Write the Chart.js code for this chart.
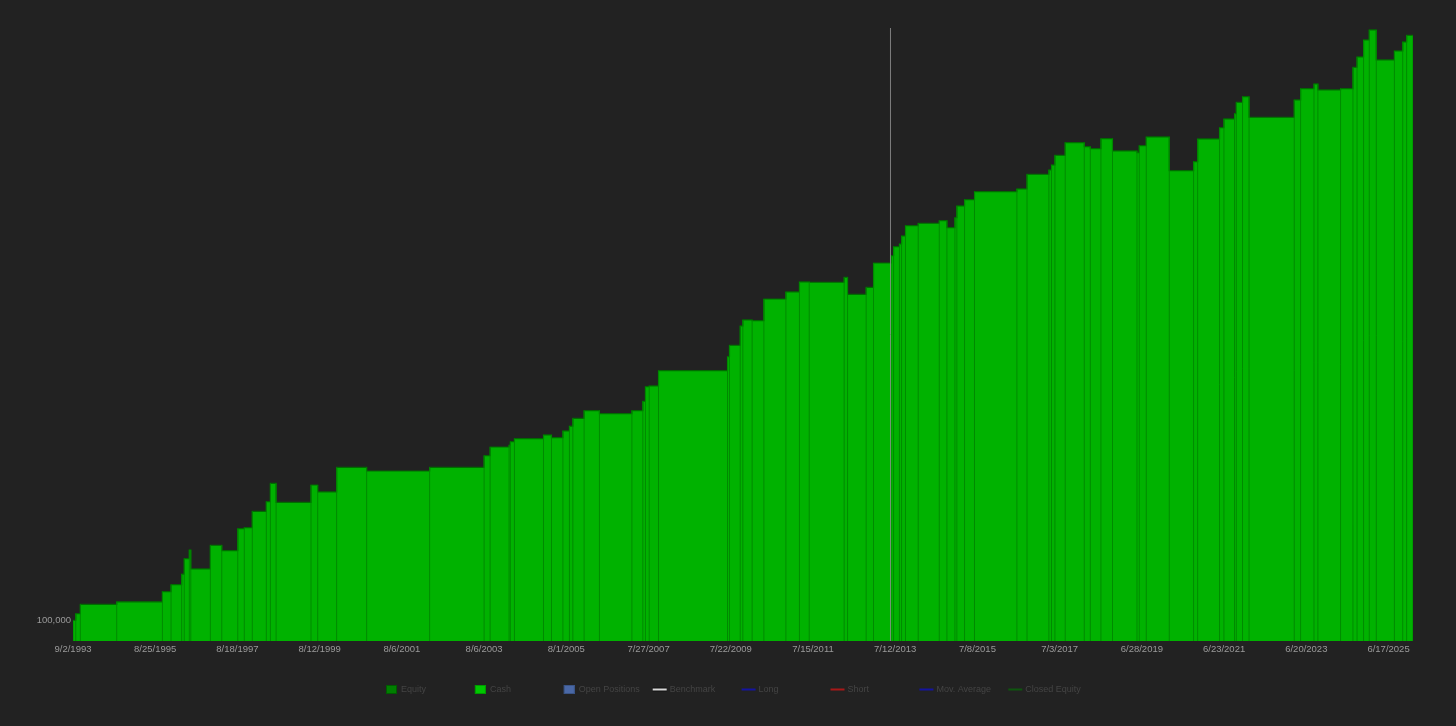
<!DOCTYPE html>
<html>
<head>
<meta charset="utf-8">
<script src="https://cdn.jsdelivr.net/npm/chart.js@4.4.1/dist/chart.umd.min.js"></script>
<style>
    html, body { margin: 0; padding: 0; background: #222222; }
    #wrap { width: 1456px; height: 726px; }
</style>
</head>
<body>
<div id="wrap"><canvas id="equityChart" width="1456" height="726"></canvas></div>
<script>
// trading day (bar index from 9/2/1993) where the equity level changes
const stepDays = [0, 17, 45, 268, 548, 601, 666, 682, 713, 722,
    842, 912, 1010, 1050, 1099, 1185, 1210, 1245, 1459, 1500,
    1616, 1800, 2186, 2520, 2557, 2673, 2681, 2706, 2884, 2933,
    3003, 3043, 3064, 3133, 3227, 3426, 3493, 3509, 3532, 3589,
    4012, 4024, 4090, 4106, 4163, 4235, 4370, 4453, 4513, 4727,
    4748, 4862, 4907, 5014, 5030, 5066, 5079, 5103, 5181, 5310,
    5357, 5406, 5418, 5465, 5526, 5786, 5848, 5982, 5998, 6019,
    6082, 6199, 6236, 6301, 6372, 6522, 6536, 6579, 6720, 6869,
    6894, 7028, 7055, 7120, 7131, 7169, 7209, 7486, 7525, 7607,
    7631, 7770, 7846, 7871, 7911, 7946, 7989, 8100, 8151, 8175];

// equity level held from that day on
const equityValues = [99900, 102400, 106000, 107000, 111100, 114000, 118600, 125600, 129700, 120900,
    132000, 129400, 140400, 140900, 149700, 155200, 166100, 154800, 165100, 160900,
    176200, 173900, 176300, 184100, 190100, 191500, 193900, 196100, 198800, 196800,
    201800, 205500, 211500, 217600, 215200, 217600, 225300, 237800, 238500, 252400,
    265900, 277400, 298000, 304700, 303900, 329400, 338100, 350900, 350500, 357100,
    335200, 344000, 376500, 386900, 400000, 404100, 416300, 432500, 436400, 440600,
    429300, 445500, 465300, 476300, 490700, 495600, 523400, 531900, 541800, 561700,
    588600, 579900, 575600, 597400, 570800, 567200, 582100, 601200, 530500, 548500,
    596800, 622300, 642800, 655600, 683900, 698300, 646800, 689800, 719300, 732000,
    715800, 719300, 778800, 809200, 862000, 894500, 800200, 827400, 855600, 877000];

const lastDay = 8214;
const tickEvery = 504; // one date label every 504 bars
const tickLabels = ['9/2/1993', '8/25/1995', '8/18/1997', '8/12/1999', '8/6/2001', '8/6/2003',
    '8/1/2005', '7/27/2007', '7/22/2009', '7/15/2011', '7/12/2013', '7/8/2015',
    '7/3/2017', '6/28/2019', '6/23/2021', '6/20/2023', '6/17/2025'];
const yTickValues = [100000];
const yMin = 92500;
const yMax = 901000;
const cursorDay = 5011; // the grey cursor line

const legendNames = ['Equity', 'Cash', 'Open Positions', 'Benchmark', 'Long', 'Short', 'Mov. Average', 'Closed Equity'];

const equityPoints = stepDays.map((d, i) => ({ x: d, y: equityValues[i] }));
equityPoints.push({ x: lastDay, y: equityValues[equityValues.length - 1] });

// darker column edges where the level changes (full height, like the original)
const edgePoints = [];
stepDays.concat([lastDay]).forEach((d, i) => {
    const prev = i > 0 ? equityValues[i - 1] : equityValues[0];
    const cur = i < equityValues.length ? equityValues[i] : prev;
    edgePoints.push({ x: d, y: yMin }, { x: d, y: Math.max(prev, cur) }, { x: d, y: null });
});

// legend look, one per name
const legendStyle = [
    { kind: 'box', fill: '#007f00', stroke: '#005c00' },
    { kind: 'box', fill: '#00c800', stroke: '#009a00' },
    { kind: 'box', fill: '#4a68a6', stroke: '#3a5486' },
    { kind: 'bench', fill: '#d8d8d8', stroke: '#111111' },
    { kind: 'line', fill: '#1414a0' },
    { kind: 'line', fill: '#a81818' },
    { kind: 'line', fill: '#1414a0' },
    { kind: 'line', fill: '#0e560e' }
];

const bottomLegend = {
    id: 'bottomLegend',
    afterDraw(chart) {
        const ctx = chart.ctx;
        const colW = 88.9;
        const left = 386;
        const cy = 689.5;
        ctx.save();
        ctx.font = '9px "Liberation Sans", Arial, sans-serif';
        ctx.textBaseline = 'middle';
        ctx.textAlign = 'left';
        legendNames.forEach((name, i) => {
            const x = left + i * colW;
            const st = legendStyle[i];
            let tx;
            if (st.kind === 'box') {
                ctx.fillStyle = st.fill;
                ctx.fillRect(x, cy - 4.5, 11, 9);
                ctx.strokeStyle = st.stroke;
                ctx.lineWidth = 1;
                ctx.strokeRect(x + 0.5, cy - 4, 10, 8);
                tx = x + 15;
            } else if (st.kind === 'bench') {
                ctx.fillStyle = st.stroke;
                ctx.fillRect(x, cy - 2, 14, 4);
                ctx.fillStyle = st.fill;
                ctx.fillRect(x, cy - 1, 14, 2);
                tx = x + 17;
            } else {
                ctx.fillStyle = st.fill;
                ctx.fillRect(x, cy - 1, 14, 2);
                tx = x + 17;
            }
            ctx.fillStyle = '#444444';
            ctx.fillText(name, tx, cy);
        });
        ctx.restore();
    }
};

const ctx = document.getElementById('equityChart').getContext('2d');
const equityChart = new Chart(ctx, {
    type: 'line',
    data: {
        datasets: [{
            label: 'Cursor',
            data: [{ x: cursorDay, y: yMin }, { x: cursorDay, y: yMax }],
            borderColor: 'rgba(150, 150, 150, 0.8)',
            borderWidth: 1,
            pointRadius: 0,
            fill: false,
            order: 0
        }, {
            label: 'Edges',
            data: edgePoints,
            borderColor: '#008a00',
            borderWidth: 1,
            pointRadius: 0,
            fill: false,
            spanGaps: false,
            order: 1
        }, {
            label: 'Equity',
            data: equityPoints,
            stepped: 'before',
            borderColor: '#006c00',
            borderWidth: 1.2,
            backgroundColor: '#00b200',
            pointRadius: 0,
            fill: 'start',
            order: 2
        }]
    },
    options: {
        responsive: false,
        animation: false,
        devicePixelRatio: 1,
        layout: { padding: { left: 0, right: 43, top: 28, bottom: 0 } },
        plugins: {
            legend: { display: false },
            tooltip: { enabled: false }
        },
        scales: {
            x: {
                type: 'linear',
                min: 0,
                max: lastDay,
                grid: { display: false, drawTicks: false },
                border: { display: false },
                afterBuildTicks: (scale) => {
                    scale.ticks = tickLabels.map((_, i) => ({ value: i * tickEvery }));
                },
                afterFit: (scale) => { scale.height = 85; },
                ticks: {
                    autoSkip: false,
                    maxRotation: 0,
                    padding: 3,
                    color: '#9a9a9a',
                    font: { family: '"Liberation Sans", Arial, sans-serif', size: 9.5 },
                    callback: (value) => tickLabels[Math.round(value / tickEvery)]
                }
            },
            y: {
                type: 'logarithmic',
                min: yMin,
                max: yMax,
                grid: { display: false, drawTicks: false },
                border: { display: false },
                afterBuildTicks: (scale) => {
                    scale.ticks = yTickValues.map(v => ({ value: v }));
                },
                afterFit: (scale) => { scale.width = 73; },
                ticks: {
                    padding: 2,
                    color: '#9a9a9a',
                    font: { family: '"Liberation Sans", Arial, sans-serif', size: 9.5 },
                    callback: (value) => Number(value).toLocaleString('en-US')
                }
            }
        }
    },
    plugins: [bottomLegend]
});
</script>
</body>
</html>
